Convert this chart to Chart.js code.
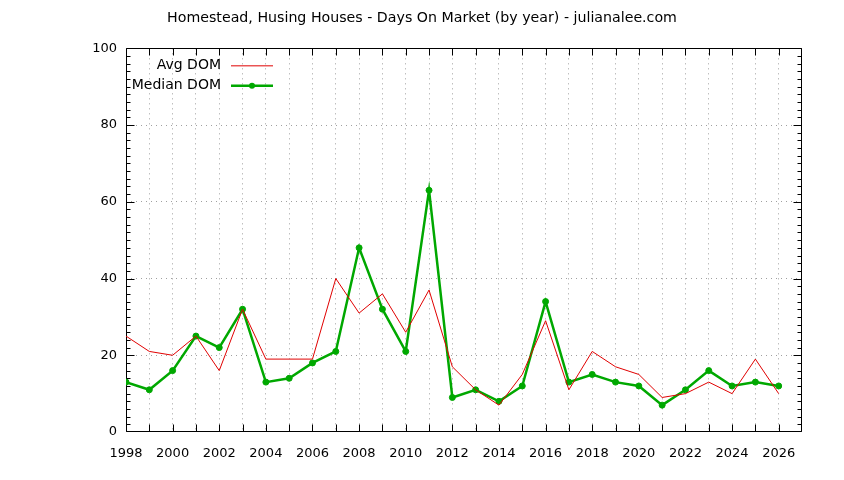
<!DOCTYPE html>
<html><head><meta charset="utf-8">
<script src="https://cdn.jsdelivr.net/npm/chart.js@4/dist/chart.umd.min.js"></script>
<style>html,body{margin:0;padding:0;background:#fff}</style>
</head><body>
<canvas id="c" width="844" height="480"></canvas>
<script>
const titleText = 'Homestead, Husing Houses - Days On Market (by year) - julianalee.com';
const years = [1998,1999,2000,2001,2002,2003,2004,2005,2006,2007,2008,2009,2010,2011,2012,2013,2014,2015,2016,2017,2018,2019,2020,2021,2022,2023,2024,2025,2026];
const avgDom = [25,21,20,25,16,32,19,19,19,40,31,36,26,37,17,11,7,15,29,11,21,17,15,9,10,13,10,19,10];
const medianDom = [13,11,16,25,22,32,13,14,18,21,48,32,21,63,9,11,8,12,34,13,15,13,12,7,11,16,12,13,12];
const seriesLabels = ['Avg DOM','Median DOM'];
const xMin = 1998, xMax = 2027;
const yMin = 0, yMax = 100;

const FONT = 'DejaVu Sans';
const GRID = '#a0a0a0';
const RED = '#e00000';
const GREEN = '#00a800';

const frame = {
  id: 'frame',
  beforeDatasetsDraw(chart) {
    const {ctx, chartArea: a, scales} = chart;
    const L = Math.round(a.left) + 0.5, R = Math.round(a.right) - 0.5;
    const T = Math.round(a.top) + 0.5, B = Math.round(a.bottom) - 0.5;
    const clamp = (v, lo, hi) => Math.min(hi, Math.max(lo, v));
    ctx.save();
    ctx.strokeStyle = '#000';
    ctx.lineWidth = 1;
    ctx.beginPath();
    scales.x.ticks.forEach(t => {
      const px = clamp(Math.round(scales.x.getPixelForValue(t.value)) + 0.5, L, R);
      ctx.moveTo(px, B); ctx.lineTo(px, B - 7);
      ctx.moveTo(px, T); ctx.lineTo(px, T + 7);
    });
    scales.y.ticks.forEach(t => {
      const py = clamp(Math.round(scales.y.getPixelForValue(t.value)) + 0.5, T, B);
      const len = (t.value % 20 === 0) ? 8 : 4;
      ctx.moveTo(L, py); ctx.lineTo(L + len, py);
      ctx.moveTo(R, py); ctx.lineTo(R - len, py);
    });
    ctx.moveTo(L, T); ctx.lineTo(R, T); ctx.lineTo(R, B); ctx.lineTo(L, B); ctx.closePath();
    ctx.stroke();
    ctx.restore();
  },
  afterDatasetsDraw(chart) {
    const {ctx, chartArea: a} = chart;
    ctx.save();
    ctx.font = '14px "' + FONT + '"';
    ctx.textAlign = 'right';
    ctx.textBaseline = 'middle';
    chart.data.datasets.forEach((ds, i) => {
      const y = a.top + 17 + i * 20;
      const tx = a.left + 95;
      ctx.fillStyle = '#000';
      ctx.fillText(ds.label, tx, y);
      ctx.strokeStyle = ds.borderColor;
      ctx.lineWidth = ds.borderWidth;
      ctx.beginPath();
      ctx.moveTo(tx + 10, y + 0.5); ctx.lineTo(tx + 52, y + 0.5);
      ctx.stroke();
      if (ds.pointRadius > 0) {
        ctx.fillStyle = ds.pointBackgroundColor;
        ctx.beginPath();
        ctx.arc(tx + 31, y + 0.5, ds.pointRadius, 0, Math.PI * 2);
        ctx.fill();
      }
    });
    ctx.restore();
  }
};

new Chart(document.getElementById('c'), {
  type: 'line',
  data: {
    datasets: [
      {
        label: seriesLabels[0],
        data: years.map((x, i) => ({x, y: avgDom[i]})),
        borderColor: RED, borderWidth: 1, pointRadius: 0, tension: 0, fill: false
      },
      {
        label: seriesLabels[1],
        data: years.map((x, i) => ({x, y: medianDom[i]})),
        borderColor: GREEN, borderWidth: 2.5, pointRadius: 3,
        pointBackgroundColor: GREEN, pointBorderColor: GREEN, pointBorderWidth: 1,
        tension: 0, fill: false
      }
    ]
  },
  options: {
    responsive: false, animation: false, devicePixelRatio: 1,
    layout: {padding: 0},
    plugins: {
      legend: {display: false},
      tooltip: {enabled: false},
      title: {
        display: true, text: titleText, color: '#000',
        font: {family: FONT, size: 14.2, weight: 'normal', lineHeight: 1.2},
        padding: {top: 10, bottom: 21.3}
      }
    },
    scales: {
      x: {
        type: 'linear', min: xMin, max: xMax,
        afterFit(s) { s.height = 48; },
        ticks: {
          stepSize: 1, autoSkip: false, maxRotation: 0, padding: 14, color: '#000',
          font: {family: FONT, size: 13},
          callback: v => (v % 2 === 0 && v < xMax) ? String(v) : ''
        },
        grid: {
          drawTicks: false, lineWidth: 1,
          color: c => (c.tick && c.tick.value > xMin && c.tick.value < xMax) ? GRID : 'rgba(0,0,0,0)'
        },
        border: {display: false, dash: [1, 4]}
      },
      y: {
        min: yMin, max: yMax,
        afterFit(s) { s.width = 126; },
        ticks: {
          stepSize: 2, autoSkip: false, padding: 9, color: '#000',
          font: {family: FONT, size: 13},
          callback: v => (v % 20 === 0) ? String(v) : ''
        },
        grid: {
          drawTicks: false, lineWidth: 1,
          color: c => (c.tick && c.tick.value % 20 === 0 && c.tick.value > yMin && c.tick.value < yMax) ? GRID : 'rgba(0,0,0,0)'
        },
        border: {display: false, dash: [1, 4]}
      },
      yRight: {
        position: 'right', min: yMin, max: yMax,
        afterFit(s) { s.width = 42; },
        ticks: {display: false},
        grid: {display: false, drawTicks: false},
        border: {display: false}
      }
    }
  },
  plugins: [frame]
});
</script>
</body></html>
